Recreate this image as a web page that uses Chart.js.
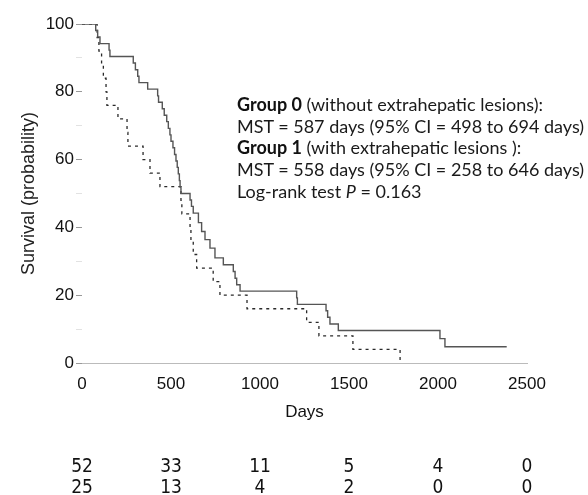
<!DOCTYPE html>
<html>
<head>
<meta charset="utf-8">
<script src="https://cdn.jsdelivr.net/npm/chart.js@4.4.1/dist/chart.umd.min.js"></script>
<style>
  html, body { margin: 0; padding: 0; background: #fff; }
  #wrap { position: relative; width: 588px; height: 495px; overflow: hidden; }
  #nota {
    position: absolute; left: 237px; top: 94px;
    font-family: Lato, "Open Sans", sans-serif; font-size: 18px;
    line-height: 21.7px; color: #1a1a1a; white-space: nowrap;
  }
  #nota b { font-weight: 700; color: #111; }
</style>
</head>
<body>
<div id="wrap">
  <canvas id="grafico" width="588" height="495"></canvas>
  <div id="nota">
    <div><b>Group 0</b> (without extrahepatic lesions):</div>
    <div>MST = 587 days (95% CI = 498 to 694 days)</div>
    <div><b>Group 1</b> (with extrahepatic lesions ):</div>
    <div>MST = 558 days (95% CI = 258 to 646 days)</div>
    <div>Log-rank test <i>P</i> = 0.163</div>
  </div>
</div>
<script>
// =======================
// DATOS
// =======================
const diasG0 = [0, 77, 88, 101, 152, 157, 288, 300, 313, 320, 369, 425, 430, 451, 462,
  476, 485, 494, 500, 511, 520, 528, 535, 541, 547, 551, 556, 607, 615, 625,
  654, 672, 691, 719, 747, 794, 850, 860, 869, 888, 1206, 1210, 1371, 1380, 1393,
  1440, 2011, 2039, 2386];
const survG0 = [100, 98.1, 96.2, 94.2, 92.3, 90.4, 88.5, 86.5, 84.6, 82.7, 80.8, 78.8, 76.9, 75.0, 73.1,
  71.2, 69.2, 67.3, 65.4, 63.5, 61.5, 59.6, 57.7, 55.8, 53.8, 51.9, 50.0, 48.1, 46.2, 44.2,
  41.4, 38.8, 36.4, 33.9, 31.0, 29.0, 27.0, 25.0, 23.1, 21.2, 19.2, 17.3, 15.4, 13.5, 11.5,
  9.6, 7.2, 4.8, 4.8];

const diasG1 = [0, 85, 95, 110, 120, 135, 140, 202, 253, 258, 343, 382, 438, 556, 561,
  607, 612, 625, 644, 737, 775, 927, 1262, 1331, 1522, 1787];
const survG1 = [100, 96, 92, 88, 84, 80, 76, 72, 68, 64, 60, 56, 52, 48, 44,
  40, 36, 32, 28, 24, 20, 16, 12, 8, 4, 0];

const ticksX = [0, 500, 1000, 1500, 2000, 2500];
const enRiesgoG0 = [52, 33, 11, 5, 4, 0];
const enRiesgoG1 = [25, 13, 4, 2, 0, 0];

const fuente = "'Liberation Sans', Arial, sans-serif";
const fuenteAngosta = "'Liberation Sans Narrow', 'DejaVu Sans Condensed', 'Liberation Sans', sans-serif";

function puntos(dias, surv) {
  return dias.map((d, i) => ({ x: d, y: surv[i] }));
}

// tabla de pacientes en riesgo bajo el eje
const tablaRiesgo = {
  id: "tablaRiesgo",
  afterDraw(chart) {
    const c = chart.ctx;
    const sx = chart.scales.x;
    c.save();
    c.fillStyle = "#111";
    c.font = "19px " + fuenteAngosta;
    c.textAlign = "center";
    c.textBaseline = "middle";
    ticksX.forEach((t, i) => {
      const px = sx.getPixelForValue(t);
      c.fillText(String(enRiesgoG0[i]), px, 467);
      c.fillText(String(enRiesgoG1[i]), px, 488);
    });
    c.restore();
  }
};

new Chart(document.getElementById("grafico"), {
  type: "line",
  data: {
    datasets: [
      {
        label: "Group 0",
        data: puntos(diasG0, survG0),
        stepped: "before",
        borderColor: "#555",
        borderWidth: 1.4,
        pointRadius: 0,
        fill: false
      },
      {
        label: "Group 1",
        data: puntos(diasG1, survG1),
        stepped: "before",
        borderColor: "#2a2a2a",
        borderWidth: 1.3,
        borderDash: [3, 4],
        pointRadius: 0,
        fill: false
      }
    ]
  },
  options: {
    responsive: false,
    animation: false,
    layout: { padding: { top: 24, right: 61, left: 0, bottom: 0 } },
    plugins: {
      legend: { display: false },
      tooltip: { enabled: false }
    },
    scales: {
      x: {
        type: "linear",
        min: 0,
        max: 2500,
        afterBuildTicks: s => { s.ticks = ticksX.map(v => ({ value: v })); },
        afterFit: s => { s.height = 132; },
        ticks: {
          font: { size: 17, family: fuente }, color: "#111", padding: 11, maxRotation: 0,
          callback: v => String(v)
        },
        grid: { display: false, drawTicks: false },
        border: { display: true, color: "#bbb", dash: [1, 4], width: 1 },
        title: {
          display: true, text: "Days", color: "#111",
          font: { size: 17, family: fuente },
          padding: { top: 0, bottom: 72 }
        }
      },
      y: {
        min: 0,
        max: 100,
        afterFit: s => { s.width = 82; },
        ticks: {
          stepSize: 10,
          font: { size: 17, family: fuente },
          color: "#111",
          padding: 2,
          callback: v => (v % 20 === 0 ? String(v) : "")
        },
        grid: {
          drawOnChartArea: false,
          drawTicks: true,
          tickLength: 6,
          color: ctx => (ctx.tick && ctx.tick.value % 20 === 0 ? "#999" : "#e2e2e2")
        },
        border: { display: false },
        title: {
          display: true, text: "Survival (probability)", color: "#222",
          font: { size: 18, family: fuente },
          padding: { top: 18, bottom: 0 }
        }
      }
    }
  },
  plugins: [tablaRiesgo]
});
</script>
</body>
</html>
